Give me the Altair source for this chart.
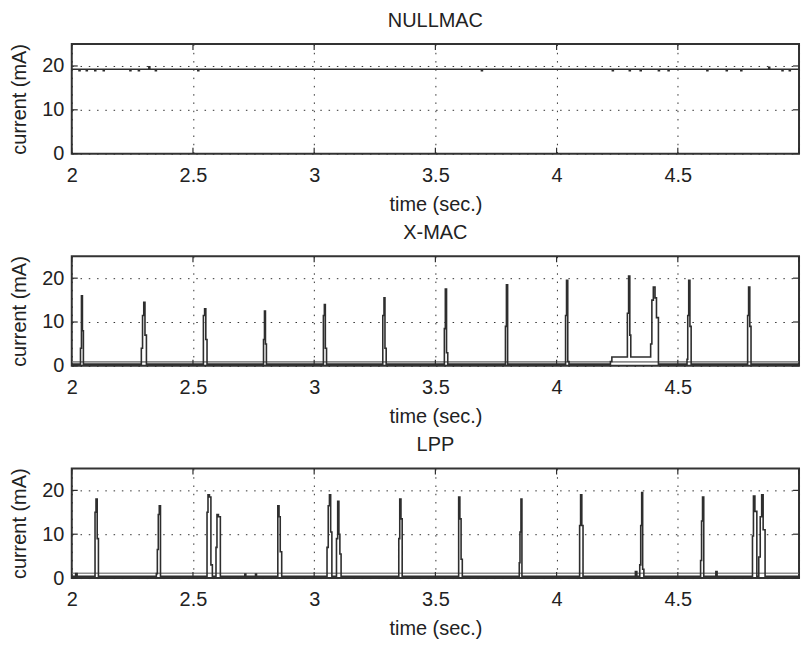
import altair as alt
import pandas as pd

# ---------------- data ----------------
XTICKS = [2, 2.5, 3, 3.5, 4, 4.5, 5]
YTICKS = [0, 10, 20]
TITLES = ["NULLMAC", "X-MAC", "LPP"]

NULL_T = [2.0, 2.030, 2.034, 2.060, 2.064, 2.095, 2.099, 2.130, 2.134, 2.240, 2.244,
          2.275, 2.279, 2.318, 2.322, 2.345, 2.349, 2.520, 2.524, 3.690, 3.694,
          4.230, 4.234, 4.300, 4.304, 4.345, 4.349, 4.420, 4.424, 4.460, 4.464,
          4.620, 4.624, 4.700, 4.704, 4.760, 4.764, 4.875, 4.879, 4.930, 4.934,
          4.960, 4.964, 5.0]
NULL_I = [19.25, 18.9, 19.25, 18.9, 19.25, 18.9, 19.25, 18.9, 19.25, 18.9, 19.25,
          18.9, 19.25, 19.8, 19.25, 18.9, 19.25, 18.9, 19.25, 18.9, 19.25,
          18.9, 19.25, 18.9, 19.25, 18.9, 19.25, 18.9, 19.25, 18.9, 19.25,
          18.9, 19.25, 18.9, 19.25, 18.9, 19.25, 19.7, 19.25, 18.9, 19.25,
          18.9, 19.25, 19.25]

XMAC_T = [2.0,
          2.036, 2.040, 2.044, 2.048,
          2.287, 2.292, 2.297, 2.302, 2.308,
          2.543, 2.548, 2.553, 2.558,
          2.791, 2.795, 2.799, 2.803,
          3.038, 3.042, 3.046, 3.051,
          3.283, 3.288, 3.292, 3.297,
          3.537, 3.541, 3.546, 3.551,
          3.789, 3.793, 3.798,
          4.037, 4.041, 4.046, 4.051,
          4.222, 4.228, 4.292, 4.297, 4.302, 4.306,
          4.388, 4.393, 4.399, 4.406, 4.412, 4.420,
          4.538, 4.541, 4.545, 4.550, 4.555,
          4.788, 4.792, 4.797, 4.802,
          5.0]
XMAC_I = [0.4,
          4, 16, 8, 0.4,
          4, 11.5, 14.5, 7, 0.4,
          11.5, 13, 6, 0.4,
          6, 12.5, 5, 0.4,
          11.5, 14, 4, 0.4,
          11.5, 15.5, 4, 0.4,
          8.5, 17.5, 3, 0.4,
          9, 18.5, 0.4,
          11.5, 19.5, 1, 0.4,
          1, 2, 12, 20.5, 7, 2,
          5, 15, 18, 15.5, 11, 0.4,
          1.5, 11.5, 19.5, 9, 0.4,
          11.5, 18, 9, 0.4,
          0.4]

LPP_T = [2.0, 2.016, 2.022,
         2.096, 2.100, 2.105, 2.110,
         2.349, 2.353, 2.357, 2.361, 2.366,
         2.558, 2.562, 2.568, 2.574, 2.580,
         2.595, 2.599, 2.605, 2.613,
         2.714, 2.718, 2.758, 2.762,
         2.850, 2.855, 2.860, 2.866,
         3.053, 3.058, 3.063, 3.068, 3.073,
         3.092, 3.097, 3.102, 3.106, 3.111,
         3.349, 3.353, 3.358, 3.363,
         3.596, 3.601, 3.606, 3.611,
         3.846, 3.849, 3.853, 3.857,
         4.095, 4.099, 4.104, 4.109,
         4.325, 4.331, 4.343, 4.347, 4.351, 4.355, 4.360,
         4.594, 4.598, 4.602, 4.607,
         4.657, 4.662,
         4.808, 4.812, 4.818, 4.826,
         4.834, 4.840, 4.846, 4.852, 4.860,
         5.0]
LPP_I = [0.4, 1.0, 0.4,
         15, 18, 9, 0.4,
         1, 6.5, 14.5, 16.5, 0.4,
         15, 19, 18.5, 3, 0.4,
         7, 14.5, 14, 0.4,
         0.9, 0.4, 0.9, 0.4,
         16.5, 14, 6, 0.4,
         7, 16.5, 19, 10.5, 0.4,
         9, 17.5, 10, 5.5, 0.4,
         9, 18, 13.5, 0.4,
         18.5, 13.5, 4.3, 0.4,
         3.5, 10.5, 18, 0.4,
         12, 19, 12, 0.4,
         1.5, 0.4, 3, 12, 19.5, 2, 0.4,
         4, 13, 18.5, 0.4,
         1.5, 0.4,
         9.6, 18.7, 15.2, 0.4,
         4.8, 14, 19, 11, 0.4,
         0.4]

# second (light) trace sitting just above the baseline
REF_T = [2.0, 5.0]
REF_I_XMAC = [0.9, 0.9]
REF_I_LPP = [1.1, 1.1]

FONT = "Liberation Sans"
W, H = 730, 110
TICK = 6
DARK = "#2e2e2e"

# the last x label ("5") is cut off by the figure edge in the original
x_enc = alt.X("t:Q", scale=alt.Scale(domain=[2, 5], nice=False, zero=False),
              axis=alt.Axis(values=XTICKS, format=".1~f", title="time (sec.)",
                            labelFlush=False,
                            labelExpr="datum.value >= 5 ? '' : datum.label",
                            labelPadding=12, titlePadding=9))
y_enc = alt.Y("i:Q", scale=alt.Scale(domain=[0, 25], nice=False),
              axis=alt.Axis(values=YTICKS, format="d", title="current (mA)",
                            labelFlush=False, labelPadding=8, titlePadding=12))


def panel(title, t, i, ref=None):
    layers = []
    if ref is not None:
        layers.append(
            alt.Chart(pd.DataFrame({"t": REF_T, "i": ref}))
            .mark_line(color="#8f8f8f", strokeWidth=1.6)
            .encode(x=x_enc, y=y_enc)
        )
    layers.append(
        alt.Chart(pd.DataFrame({"t": t, "i": i}))
        .mark_line(color=DARK, strokeWidth=1.6, interpolate="step-after", clip=True)
        .encode(x=x_enc, y=y_enc)
    )
    xt = pd.DataFrame({"t": XTICKS})
    yt = pd.DataFrame({"i": YTICKS})
    layers += [
        alt.Chart(xt).mark_rule(color=DARK, strokeWidth=1.2)
        .encode(x=x_enc, y=alt.value(0), y2=alt.value(TICK)),
        alt.Chart(xt).mark_rule(color=DARK, strokeWidth=1.2)
        .encode(x=x_enc, y=alt.value(H), y2=alt.value(H - TICK)),
        alt.Chart(yt).mark_rule(color=DARK, strokeWidth=1.2)
        .encode(y=y_enc, x=alt.value(0), x2=alt.value(TICK)),
        alt.Chart(yt).mark_rule(color=DARK, strokeWidth=1.2)
        .encode(y=y_enc, x=alt.value(W), x2=alt.value(W - TICK)),
    ]
    return alt.layer(*layers).properties(
        width=W, height=H,
        title=alt.TitleParams(title, font=FONT, fontSize=20, fontWeight="normal",
                              color="#222", anchor="middle", offset=13),
    )


chart = alt.vconcat(
    panel(TITLES[0], NULL_T, NULL_I),
    panel(TITLES[1], XMAC_T, XMAC_I, REF_I_XMAC),
    panel(TITLES[2], LPP_T, LPP_I, REF_I_LPP),
    spacing=6,
).properties(
    padding={"left": 0, "top": 0, "right": 0, "bottom": 0}
).configure_view(
    stroke="#333", strokeWidth=2
).configure_axis(
    labelFont=FONT, titleFont=FONT, labelFontSize=20, titleFontSize=20,
    titleFontWeight="normal", labelColor="#222", titleColor="#222",
    ticks=False, tickSize=0, domain=False,
    grid=True, gridColor="#333", gridDash=[1.5, 6.8], gridWidth=1, gridOpacity=1,
)

chart.save("out.html", embed_options={"renderer": "svg", "actions": False})
